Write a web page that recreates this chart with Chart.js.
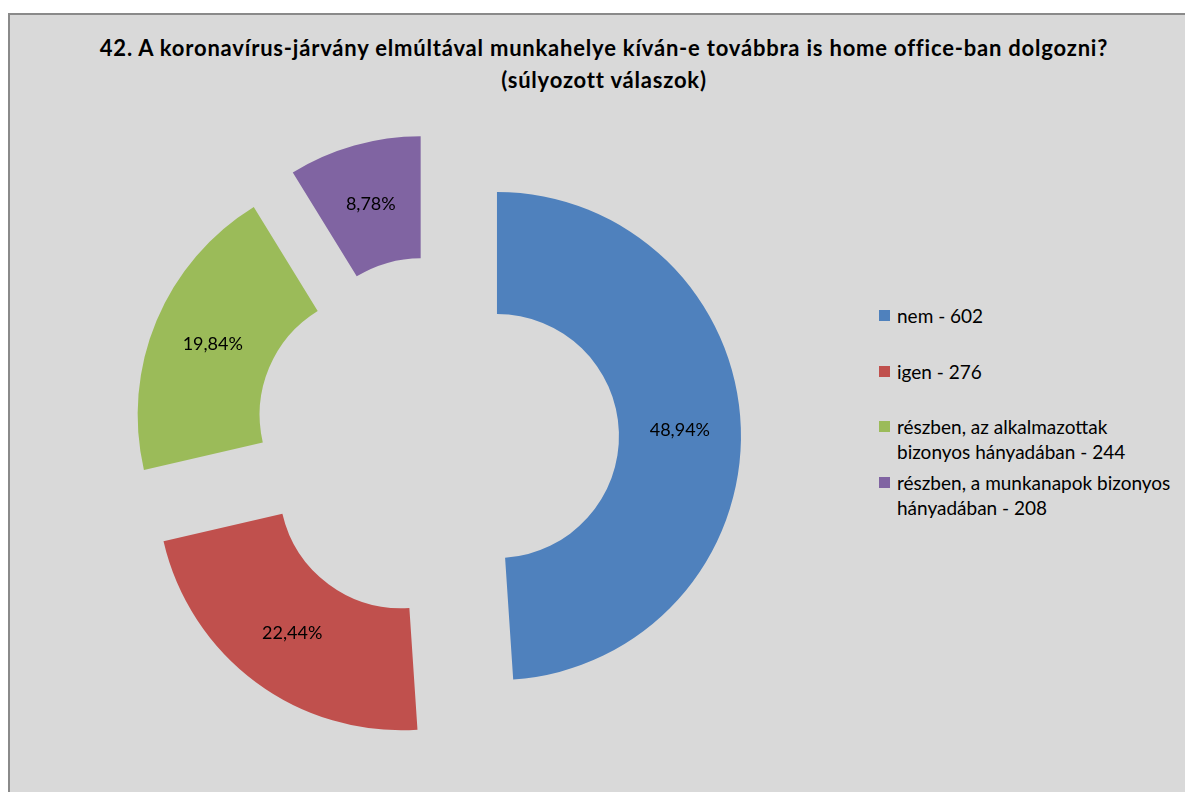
<!DOCTYPE html>
<html>
<head>
<meta charset="utf-8">
<script src="https://cdn.jsdelivr.net/npm/chart.js@4"></script>
<style>
  html, body { margin: 0; padding: 0; background: #fff; overflow: hidden; }
  body { width: 1185px; height: 792px; position: relative; font-family: Lato, "Noto Sans", sans-serif; }
  #frame {
    position: absolute; left: 8px; top: 13px; width: 1200px; height: 800px;
    background: #d9d9d9; border: 2px solid #8a8a8a; box-sizing: border-box;
  }
  #title {
    position: absolute; left: 8px; top: 32px; width: 1192px; text-align: center;
    font-weight: bold; font-size: 22px; letter-spacing: 0.8px; line-height: 32px; color: #000;
  }
  #chart-wrap { position: absolute; left: 117px; top: 118px; width: 640px; height: 640px; }
  #legend { position: absolute; left: 879px; top: 303px; margin: 0; padding: 0; list-style: none; }
  #legend li { position: absolute; left: 0; width: 300px; font-size: 19px; line-height: 25px; color: #000; }
  #legend .box { position: absolute; left: 0; top: 7px; width: 11px; height: 11px; }
  #legend .txt { position: absolute; left: 18px; top: 0; width: 282px; }
</style>
</head>
<body>
<div id="frame"></div>
<div id="title">42. A koronavírus-járvány elmúltával munkahelye kíván-e továbbra is home office-ban dolgozni?<br>(súlyozott válaszok)</div>
<div id="chart-wrap"><canvas id="donut" width="640" height="640"></canvas></div>
<ul id="legend"></ul>

<script>
/****************** DONNEES **********************/

var categories = ['nem', 'igen', 'részben, az alkalmazottak bizonyos hányadában', 'részben, a munkanapok bizonyos hányadában'];
var counts = [602, 276, 244, 208];
var shares = [48.94, 22.44, 19.84, 8.78];

var colors = ['#4f81bd', '#c0504d', '#9bbb59', '#8064a2'];
var EXPLODE = 60; // écartement des parts en px

/****************** FONCTION **********************/

/** Écarte chaque part le long de son angle médian (translation pure, sans agrandir l'anneau) */
var explodeArcs = {
    id: 'explodeArcs',
    afterDatasetUpdate: function (chart, args) {
        args.meta.data.forEach(function (arc) {
            var mid = (arc.startAngle + arc.endAngle) / 2;
            arc.x += Math.cos(mid) * EXPLODE;
            arc.y += Math.sin(mid) * EXPLODE;
        });
    }
};

/** Pourcentages au milieu de chaque part */
var percentLabels = {
    id: 'percentLabels',
    afterDatasetsDraw: function (chart) {
        var ctx = chart.ctx;
        var meta = chart.getDatasetMeta(0);
        ctx.save();
        ctx.font = '18px Lato, "Noto Sans", sans-serif';
        ctx.fillStyle = '#000';
        ctx.textAlign = 'center';
        ctx.textBaseline = 'middle';
        meta.data.forEach(function (arc, i) {
            var p = arc.getCenterPoint();
            var text = shares[i].toFixed(2).replace('.', ',') + '%';
            ctx.fillText(text, p.x, p.y);
        });
        ctx.restore();
    }
};

function makeLegend()
{
    var ul = document.getElementById('legend');
    categories.forEach(function (cat, i) {
        var li = document.createElement('li');
        li.style.top = (i * 55.7) + 'px';
        li.innerHTML = '<span class="box" style="background:' + colors[i] + '"></span>' +
            '<span class="txt">' + cat + ' - ' + counts[i] + '</span>';
        ul.appendChild(li);
    });
}

function makeDonut()
{
    var ctx = document.getElementById('donut').getContext('2d');
    new Chart(ctx, {
        type: 'doughnut',
        data: {
            labels: categories,
            datasets: [{
                data: shares,
                backgroundColor: colors,
                borderWidth: 0,
                radius: 244,
                cutout: '50%',
                hoverOffset: 0
            }]
        },
        options: {
            responsive: false,
            animation: false,
            events: [],
            plugins: {
                legend: { display: false },
                tooltip: { enabled: false },
                title: { display: false }
            }
        },
        plugins: [explodeArcs, percentLabels]
    });
}

makeLegend();
makeDonut();
</script>
</body>
</html>
